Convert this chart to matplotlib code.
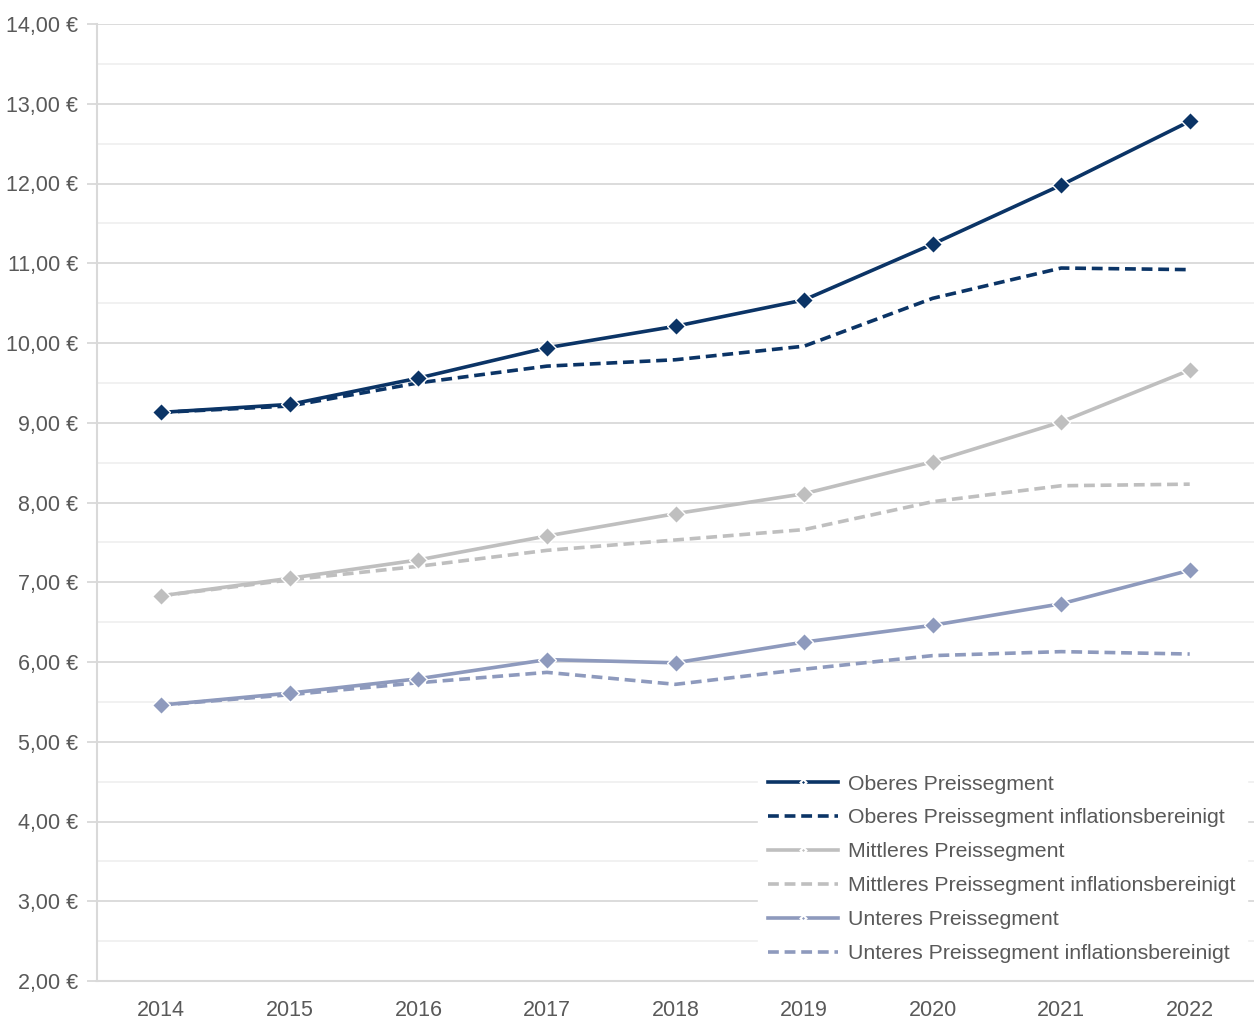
import matplotlib
matplotlib.use("Agg")
import matplotlib.pyplot as plt
from matplotlib.lines import Line2D
from matplotlib.ticker import MultipleLocator, FuncFormatter

years = ["2014", "2015", "2016", "2017", "2018", "2019", "2020", "2021", "2022"]
oberes = [9.13, 9.23, 9.56, 9.94, 10.21, 10.54, 11.24, 11.98, 12.78]
oberes_infl = [9.13, 9.21, 9.50, 9.71, 9.79, 9.96, 10.56, 10.94, 10.92]
mittleres = [6.83, 7.05, 7.28, 7.58, 7.86, 8.11, 8.51, 9.01, 9.66]
mittleres_infl = [6.83, 7.03, 7.20, 7.40, 7.53, 7.66, 8.01, 8.21, 8.23]
unteres = [5.46, 5.61, 5.79, 6.03, 5.99, 6.25, 6.46, 6.73, 7.15]
unteres_infl = [5.46, 5.59, 5.74, 5.87, 5.72, 5.91, 6.08, 6.13, 6.10]

labels = ["Oberes Preissegment", "Oberes Preissegment inflationsbereinigt",
          "Mittleres Preissegment", "Mittleres Preissegment inflationsbereinigt",
          "Unteres Preissegment", "Unteres Preissegment inflationsbereinigt"]

c_ob = "#0b3466"
c_mi = "#bfbfbf"
c_un = "#8e9abd"
text_c = "#595959"
grid_major = "#d9d9d9"
grid_minor = "#f0f0f0"

plt.rcParams['font.family'] = ['Liberation Sans', 'DejaVu Sans']

fig = plt.figure(figsize=(12.54, 10.19), dpi=100)
ax = fig.add_axes([97/1254, 38/1019, 1 - 97/1254, (981-24)/1019])

x = list(range(len(years)))
lw = 2.6
dash = (0, (3, 1.6))
series = [
    (oberes, c_ob, '-', True),
    (oberes_infl, c_ob, dash, False),
    (mittleres, c_mi, '-', True),
    (mittleres_infl, c_mi, dash, False),
    (unteres, c_un, '-', True),
    (unteres_infl, c_un, dash, False),
]
order = [1, 3, 5, 0, 2, 4]
for i in order:
    vals, col, ls, mk = series[i]
    if mk:
        ax.plot(x, vals, color=col, linestyle=ls, linewidth=lw, marker='D',
                markersize=9, markerfacecolor=col, markeredgecolor='white',
                markeredgewidth=1.0, zorder=4)
    else:
        ax.plot(x, vals, color=col, linestyle=ls, linewidth=lw, zorder=3)

ax.set_xlim(-0.5, len(years) - 0.5)
ax.set_ylim(2, 14)
ax.yaxis.set_major_locator(MultipleLocator(1))
ax.yaxis.set_minor_locator(MultipleLocator(0.5))
ax.yaxis.set_major_formatter(FuncFormatter(lambda v, p: f"{v:.2f}".replace('.', ',') + " €"))
ax.set_xticks(x)
ax.set_xticklabels(years)

ax.grid(which='major', axis='y', color=grid_major, linewidth=1.3, zorder=0)
ax.grid(which='minor', axis='y', color=grid_minor, linewidth=1.3, zorder=0)
ax.set_axisbelow(True)

for s in ['top', 'right']:
    ax.spines[s].set_visible(False)
ax.spines['left'].set_color(grid_major)
ax.spines['left'].set_linewidth(1.5)
ax.spines['bottom'].set_color(grid_major)
ax.spines['bottom'].set_linewidth(1.5)

ax.tick_params(axis='y', which='major', length=7, width=1.3, color=grid_major,
               labelsize=15.5, labelcolor=text_c, pad=6.5)
ax.tick_params(axis='y', which='minor', length=0)
ax.tick_params(axis='x', length=0, labelsize=15.5, labelcolor=text_c, pad=14)

handles = []
for i, (vals, col, ls, mk) in enumerate(series):
    if mk:
        h = Line2D([0], [0], color=col, linestyle='-', linewidth=lw, marker='D',
                   markersize=3, markerfacecolor=col, markeredgecolor='white',
                   markeredgewidth=1.5)
    else:
        h = Line2D([0], [0], color=col, linestyle=dash, linewidth=lw)
    handles.append(h)

leg = ax.legend(handles, labels, loc='lower right', bbox_to_anchor=(1.0, 0.0),
                frameon=True, fancybox=False, edgecolor='white', facecolor='white',
                framealpha=1.0, fontsize=15.3, handlelength=3.3, handletextpad=0.47,
                labelspacing=0.7, borderpad=0.5, borderaxespad=0.35, labelcolor=text_c)
leg.set_zorder(5)

fig.savefig("out.png", dpi=100, facecolor='white')
